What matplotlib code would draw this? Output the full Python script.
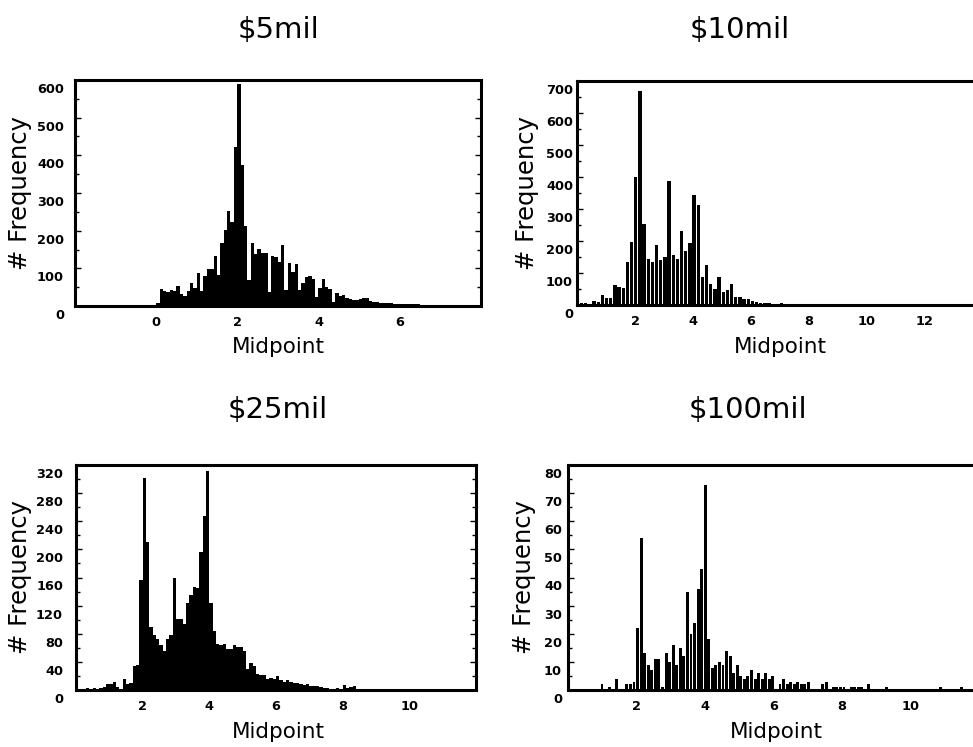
#-------------------------------------------------------------------------------
# Midpoint histograms for four deal sizes
#-------------------------------------------------------------------------------

import numpy as np
import matplotlib.pyplot as plt
from matplotlib.ticker import MultipleLocator
import matplotlib.transforms as mtransforms

#===============================================================================
# Data (bin counts)
#===============================================================================

titles = ['$5mil', '$10mil', '$25mil', '$100mil']

# $5mil: counts in equal bins from lo to hi
lo_5, hi_5 = 0.0, 7.9
counts_5 = [9, 44, 40, 36, 42, 41, 53, 32, 27, 40,
            60, 47, 88, 41, 80, 97, 97, 134, 82, 168,
            202, 252, 224, 421, 589, 374, 212, 69, 166, 138,
            151, 140, 140, 37, 133, 131, 118, 163, 42, 113,
            91, 111, 42, 60, 78, 80, 71, 23, 47, 73,
            50, 44, 11, 34, 27, 30, 22, 18, 16, 17,
            18, 20, 22, 12, 11, 10, 9, 8, 7, 9,
            5, 4, 5, 6, 6, 5, 4, 4, 3, 3,
            3, 2, 2, 2, 2, 2, 1, 2, 1, 1,
            1, 1, 1, 1, 1]

# $10mil
lo_10, hi_10 = 0.1, 13.32
counts_10 = [7, 5, 4, 11, 10, 31, 23, 23, 61, 56,
             54, 133, 198, 400, 669, 253, 145, 134, 186, 140,
             151, 389, 157, 145, 230, 169, 193, 345, 311, 87,
             125, 65, 50, 86, 40, 47, 65, 26, 24, 20,
             18, 14, 9, 6, 5, 5, 3, 3, 5, 3,
             3, 2, 2, 2, 2, 2, 2, 2, 2, 2,
             2, 2, 2, 2, 2, 2, 2, 2, 2, 2,
             2, 2, 2, 2, 2, 2, 2, 2, 2, 2,
             2, 2, 2, 2, 2, 2, 2, 2, 2, 2,
             2, 2]

# $25mil
lo_25, hi_25 = 0.0, 10.5
counts_25 = [1, 2, 1, 3, 2, 3, 2, 3, 4, 8,
             9, 12, 4, 0, 15, 8, 10, 34, 36, 157,
             301, 211, 89, 78, 73, 64, 56, 72, 78, 160,
             101, 101, 94, 124, 135, 146, 145, 196, 247, 311,
             124, 84, 66, 64, 66, 59, 59, 64, 61, 61,
             56, 30, 38, 34, 23, 22, 21, 16, 17, 16,
             20, 14, 12, 14, 11, 10, 10, 9, 7, 8,
             6, 5, 6, 4, 3, 3, 2, 2, 3, 2,
             7, 3, 4, 5, 2, 1, 1, 1, 1, 1,
             1, 1, 1, 1, 1, 1, 1, 1, 1, 1,
             1, 1, 1, 1, 1]

# $100mil
lo_100, hi_100 = 0.95, 11.55
counts_100 = [2, 0, 1, 0, 4, 0, 0, 2, 2, 3,
              22, 54, 13, 9, 7, 11, 11, 1, 13, 10,
              16, 9, 15, 12, 35, 20, 24, 36, 43, 73,
              18, 8, 9, 10, 9, 14, 12, 6, 9, 5,
              4, 5, 7, 4, 6, 4, 6, 4, 5, 0,
              2, 4, 2, 3, 2, 3, 2, 2, 3, 0,
              0, 0, 2, 3, 0, 1, 1, 1, 1, 0,
              1, 1, 1, 1, 0, 2, 0, 0, 0, 0,
              1, 0, 0, 0, 0, 0, 0, 0, 0, 0,
              0, 0, 0, 0, 0, 1, 0, 0, 0, 0,
              0, 1]

#===============================================================================
# Figure
#===============================================================================

W, H = 973, 747
fig = plt.figure(figsize=(W / 100, H / 100), dpi=100)

def px_rect(left, top, right, bottom):
    return [left / W, 1 - bottom / H, (right - left) / W, (bottom - top) / H]

panels = [
    # data, axes box in pixels, xlim, ylim, y step, bar fill fraction, label pad (px)
    ((lo_5, hi_5, counts_5), (75, 80, 481, 306), (-2, 8), 600, 100, 1.0, 11),
    ((lo_10, hi_10, counts_10), (577, 81, 983, 305), (0, 14), 700, 100, 0.8, 4),
    ((lo_25, hi_25, counts_25), (76, 465, 476, 690), (0, 12), 320, 40, 1.0, 13),
    ((lo_100, hi_100, counts_100), (568, 465, 979, 690), (0, 12), 80, 10, 0.82, 6),
]

title_pos = [(278, 30), (740, 30), (278, 410), (748, 410)]
xlab_pos = [(278, 347), (780, 347), (278, 732), (776, 732)]
ylab_x = [20, 527, 20, 524]

tick_font = dict(family='DejaVu Sans', weight='bold', size=9.3)
down = mtransforms.ScaledTranslation(0, -8 / 100, fig.dpi_scale_trans)

for i, ((lo, hi, counts), box, xlim, ytop, ystep, frac, ypad) in enumerate(panels):
    ax = fig.add_axes(px_rect(*box))
    edges = np.linspace(lo, hi, len(counts) + 1)
    bw = edges[1] - edges[0]
    ax.bar(edges[:-1], counts, width=bw * frac, align='edge',
           color='black', linewidth=0)

    ax.set_xlim(*xlim)
    ax.set_ylim(0, ytop)
    ax.yaxis.set_minor_locator(MultipleLocator(ystep / 2))

    # the original leaves out the labels at the two ends of the x axis
    xt = [t for t in np.arange(xlim[0], xlim[1] + 0.01, 2) if xlim[0] < t < xlim[1]]
    ax.set_xticks(xt)
    ax.set_xticklabels([str(int(t)) for t in xt], **tick_font)
    yt = np.arange(0, ytop + 0.01, ystep)
    ax.set_yticks(yt)
    ax.set_yticklabels([str(int(t)) for t in yt], **tick_font)

    ax.tick_params(axis='x', length=0, pad=7)
    ax.tick_params(axis='y', which='both', direction='in', left=True, right=True,
                   width=1, pad=ypad * 0.72)
    ax.tick_params(axis='y', which='major', length=4)
    ax.tick_params(axis='y', which='minor', length=3)
    for lab in ax.get_yticklabels():
        lab.set_transform(lab.get_transform() + down)

    for sp in ax.spines.values():
        sp.set_linewidth(2.2)

    fig.text(title_pos[i][0] / W, 1 - title_pos[i][1] / H, titles[i].replace('$', r'\$'),
             ha='center', va='center', fontsize=21, family='DejaVu Sans')
    fig.text(xlab_pos[i][0] / W, 1 - xlab_pos[i][1] / H, 'Midpoint',
             ha='center', va='center', fontsize=15.5, family='DejaVu Sans')
    fig.text(ylab_x[i] / W, 1 - (box[1] + box[3]) / 2 / H, '# Frequency',
             ha='center', va='center', rotation=90, fontsize=17.5, family='DejaVu Sans')

fig.savefig('out.png', dpi=100)
